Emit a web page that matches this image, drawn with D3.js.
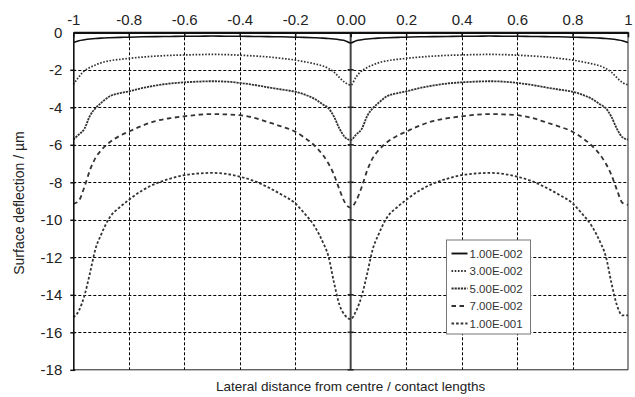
<!DOCTYPE html>
<html>
<head>
<meta charset="utf-8">
<script src="https://cdn.jsdelivr.net/npm/d3@7"></script>
<style>
  body { margin: 0; background: #fff; }
  svg { display: block; font-family: "Liberation Sans", Arial, sans-serif; }
</style>
</head>
<body>
<svg id="chart" width="635" height="397"></svg>
<script>
// lateral position (contact lengths)
var xs = [-1, -0.98, -0.96, -0.94, -0.92, -0.9, -0.87, -0.83, -0.8, -0.75, -0.7, -0.65, -0.6, -0.55, -0.5,
  -0.45, -0.4, -0.35, -0.3, -0.25, -0.2, -0.17, -0.13, -0.1, -0.08, -0.06, -0.04, -0.02, 0,
  0.02, 0.04, 0.06, 0.08, 0.1, 0.13, 0.17, 0.2, 0.25, 0.3, 0.35, 0.4, 0.45, 0.5,
  0.55, 0.6, 0.65, 0.7, 0.75, 0.8, 0.83, 0.87, 0.9, 0.92, 0.94, 0.96, 0.98, 1];

var seriesNames = ["1.00E-002", "3.00E-002", "5.00E-002", "7.00E-002", "1.00E-001"];

var s1 = [-0.55, -0.45, -0.40, -0.36, -0.33, -0.31, -0.29, -0.27, -0.26, -0.24, -0.23, -0.22, -0.21, -0.21, -0.20,
  -0.21, -0.21, -0.22, -0.23, -0.24, -0.26, -0.27, -0.29, -0.31, -0.33, -0.36, -0.40, -0.45, -0.57,
  -0.45, -0.40, -0.36, -0.33, -0.31, -0.29, -0.27, -0.26, -0.24, -0.23, -0.22, -0.21, -0.21, -0.20,
  -0.21, -0.21, -0.22, -0.23, -0.24, -0.26, -0.27, -0.29, -0.31, -0.33, -0.36, -0.40, -0.45, -0.55];

var s2 = [-2.78, -2.38, -2.05, -1.88, -1.74, -1.63, -1.52, -1.44, -1.39, -1.32, -1.27, -1.23, -1.21, -1.19, -1.18,
  -1.19, -1.22, -1.26, -1.31, -1.39, -1.48, -1.56, -1.68, -1.80, -1.93, -2.12, -2.42, -2.68, -2.82,
  -2.38, -2.05, -1.88, -1.74, -1.63, -1.52, -1.44, -1.39, -1.32, -1.27, -1.23, -1.21, -1.19, -1.18,
  -1.19, -1.22, -1.26, -1.31, -1.39, -1.48, -1.56, -1.68, -1.80, -1.93, -2.12, -2.42, -2.68, -2.80];

var s3 = [-5.72, -5.45, -5.15, -4.45, -4.05, -3.77, -3.42, -3.24, -3.15, -2.97, -2.83, -2.73, -2.67, -2.63, -2.61,
  -2.63, -2.70, -2.80, -2.93, -3.05, -3.17, -3.30, -3.55, -3.85, -4.05, -4.50, -5.15, -5.60, -5.75,
  -5.45, -5.15, -4.45, -4.05, -3.77, -3.42, -3.24, -3.15, -2.97, -2.83, -2.73, -2.67, -2.63, -2.61,
  -2.63, -2.70, -2.80, -2.93, -3.05, -3.17, -3.30, -3.55, -3.85, -4.05, -4.50, -5.15, -5.60, -5.72];

var s4 = [-9.15, -8.98, -8.25, -7.35, -6.70, -6.30, -5.88, -5.50, -5.30, -4.97, -4.72, -4.58, -4.48, -4.40, -4.36,
  -4.38, -4.42, -4.55, -4.78, -5.02, -5.30, -5.58, -6.05, -6.55, -7.00, -7.60, -8.40, -9.10, -9.35,
  -8.98, -8.25, -7.35, -6.70, -6.30, -5.88, -5.50, -5.30, -4.97, -4.72, -4.58, -4.48, -4.40, -4.36,
  -4.38, -4.42, -4.55, -4.78, -5.02, -5.30, -5.58, -6.05, -6.55, -7.00, -7.60, -8.40, -9.10, -9.20];

var s5 = [-15.20, -14.85, -14.05, -12.85, -11.55, -10.80, -9.90, -9.30, -8.94, -8.42, -8.05, -7.80, -7.62, -7.53, -7.50,
  -7.55, -7.70, -7.92, -8.25, -8.65, -9.12, -9.60, -10.35, -11.20, -11.95, -13.35, -14.55, -15.10, -15.30,
  -14.85, -14.05, -12.85, -11.55, -10.80, -9.90, -9.30, -8.94, -8.42, -8.05, -7.80, -7.62, -7.53, -7.50,
  -7.55, -7.70, -7.92, -8.25, -8.65, -9.12, -9.60, -10.35, -11.20, -11.95, -13.35, -14.55, -15.10, -15.10];

var xTicks = [-1, -0.8, -0.6, -0.4, -0.2, 0, 0.2, 0.4, 0.6, 0.8, 1];
var xTickLabels = ["-1", "-0.8", "-0.6", "-0.4", "-0.2", "0.00", "0.2", "0.4", "0.6", "0.8", "1"];
var yTicks = [0, -2, -4, -6, -8, -10, -12, -14, -16, -18];

var allSeries = [s1, s2, s3, s4, s5];
var dashes = [null, "1.6,1.6", "2.2,0.9", "4.5,3.5", "2.6,2"];
var widths = [1.6, 1.7, 1.8, 1.8, 1.8];

var svg = d3.select("#chart");
var plotLeft = 73.3, plotRight = 628, plotTop = 32.3, plotBottom = 369.8;

var x = d3.scaleLinear().domain([-1, 1]).range([plotLeft, plotRight]);
var y = d3.scaleLinear().domain([0, -18]).range([plotTop, plotBottom]);

// gridlines
var grid = svg.append("g").attr("stroke", "#000").attr("stroke-width", 1).attr("stroke-dasharray", "3,2");
grid.selectAll("line.v")
  .data(xTicks.filter(function (d) { return d !== -1 && d !== 0 && d !== 1; }))
  .enter().append("line")
  .attr("x1", function (d) { return Math.round(x(d)) + 0.5; })
  .attr("x2", function (d) { return Math.round(x(d)) + 0.5; })
  .attr("y1", plotTop).attr("y2", plotBottom);
grid.selectAll("line.h")
  .data(yTicks.filter(function (d) { return d !== 0 && d !== -18; }))
  .enter().append("line")
  .attr("x1", plotLeft).attr("x2", plotRight)
  .attr("y1", function (d) { return Math.round(y(d)) + 0.5; })
  .attr("y2", function (d) { return Math.round(y(d)) + 0.5; });

// right and bottom borders
svg.append("line").attr("x1", plotRight).attr("x2", plotRight).attr("y1", plotTop).attr("y2", plotBottom)
  .attr("stroke", "#222").attr("stroke-width", 1);
svg.append("line").attr("x1", plotLeft).attr("x2", plotRight).attr("y1", plotBottom).attr("y2", plotBottom)
  .attr("stroke", "#222").attr("stroke-width", 1);

// centre line with ticks
svg.append("line").attr("x1", x(0)).attr("x2", x(0)).attr("y1", plotTop).attr("y2", plotBottom)
  .attr("stroke", "#444").attr("stroke-width", 2);
svg.append("g").selectAll("line")
  .data(yTicks.filter(function (d) { return d !== 0; }))
  .enter().append("line")
  .attr("x1", x(0) - 3).attr("x2", x(0) + 3)
  .attr("y1", function (d) { return y(d); }).attr("y2", function (d) { return y(d); })
  .attr("stroke", "#222").attr("stroke-width", 1.5);

// curves
var line = d3.line()
  .x(function (d, i) { return x(xs[i]); })
  .y(function (d) { return y(d); })
  .curve(d3.curveMonotoneX);

svg.append("g").selectAll("path")
  .data(allSeries)
  .enter().append("path")
  .attr("d", line)
  .attr("fill", "none")
  .attr("stroke", function (d, i) { return i === 0 ? "#111" : "#333"; })
  .attr("stroke-width", function (d, i) { return widths[i]; })
  .attr("stroke-dasharray", function (d, i) { return dashes[i]; });

// top axis
var xAxis = d3.axisTop(x).tickValues(xTicks)
  .tickFormat(function (d, i) { return xTickLabels[i]; })
  .tickSizeInner(-5).tickSizeOuter(0).tickPadding(7);
var gx = svg.append("g").attr("transform", "translate(0," + plotTop + ")").call(xAxis);
gx.select(".domain").attr("stroke", "#111").attr("stroke-width", 2.2);
gx.selectAll(".tick line").attr("stroke", "#111").attr("stroke-width", 1.5);
gx.selectAll("text").attr("font-size", 15).attr("fill", "#222");

// left axis (plain hyphen minus, as in the original)
var yAxis = d3.axisLeft(y).tickValues(yTicks)
  .tickFormat(function (d) { return String(d); })
  .tickSizeInner(4).tickSizeOuter(0).tickPadding(7);
var gy = svg.append("g").attr("transform", "translate(" + plotLeft + ",0)").call(yAxis);
gy.select(".domain").attr("stroke", "#111").attr("stroke-width", 1.6);
gy.selectAll(".tick line").attr("stroke", "#111").attr("stroke-width", 1.5).attr("x2", 2).attr("x1", -3);
gy.selectAll("text").attr("font-size", 15).attr("fill", "#222");
gy.selectAll(".tick").filter(function (d) { return d === 0; }).select("line").remove();

// axis titles
svg.append("text")
  .attr("transform", "translate(24," + ((plotTop + plotBottom) / 2 + 2) + ") rotate(-90)")
  .attr("text-anchor", "middle")
  .attr("font-size", 14).attr("fill", "#222")
  .text("Surface deflection / µm");
svg.append("text")
  .attr("x", x(0)).attr("y", 391)
  .attr("text-anchor", "middle")
  .attr("font-size", 13.5).attr("fill", "#222")
  .text("Lateral distance from centre / contact lengths");

// legend
var lg = svg.append("g").attr("transform", "translate(446.5,240)");
lg.append("rect").attr("width", 84).attr("height", 94)
  .attr("fill", "#fff").attr("stroke", "#777").attr("stroke-width", 1);
var items = lg.selectAll("g.item").data(seriesNames).enter().append("g")
  .attr("transform", function (d, i) { return "translate(0," + (13.5 + i * 17.5) + ")"; });
items.append("line").attr("x1", 5).attr("x2", 21).attr("y1", 0).attr("y2", 0)
  .attr("stroke", function (d, i) { return i === 0 ? "#111" : "#333"; })
  .attr("stroke-width", function (d, i) { return widths[i] + 0.3; })
  .attr("stroke-dasharray", function (d, i) { return dashes[i]; });
items.append("text").attr("x", 23).attr("y", 4)
  .attr("font-size", 11.5).attr("fill", "#333")
  .text(function (d) { return d; });
</script>
</body>
</html>
